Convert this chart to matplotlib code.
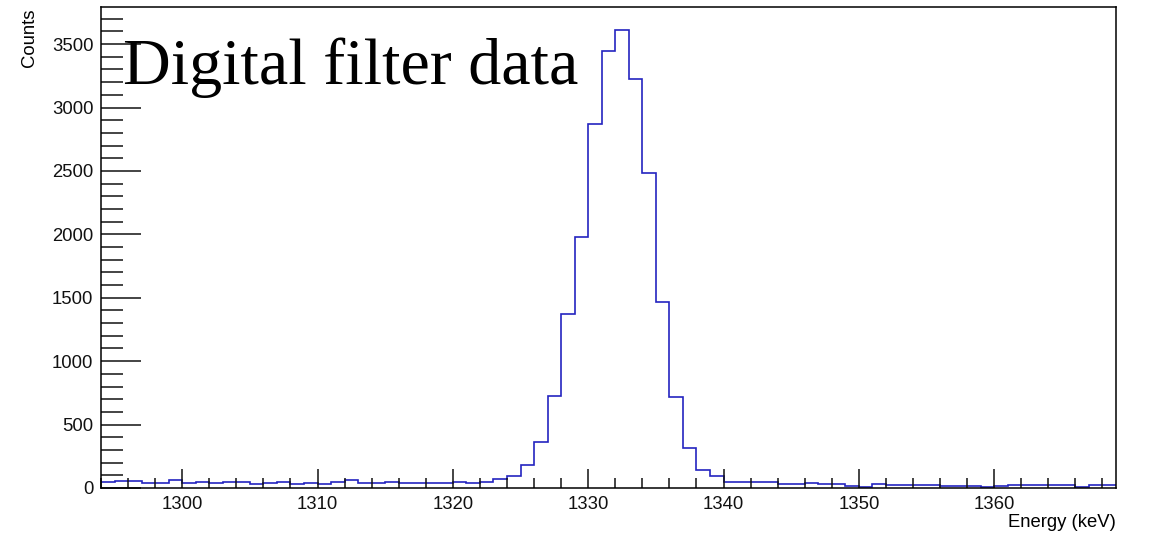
"""
Energy spectrum around the 1332 keV line, digital filter data.
"""
import numpy as np
import matplotlib.pyplot as plt
from matplotlib.ticker import MultipleLocator

# ------------------------------------------------------------------
# Data (1 keV bins starting at 1294 keV)
# ------------------------------------------------------------------
BIN_START = 1294
BIN_WIDTH = 1
COUNTS = [
    45, 53, 53, 42, 42, 63, 42, 50, 42, 50,      # 1294-1303
    50, 29, 42, 50, 29, 42, 29, 50, 61, 42,      # 1304-1313
    42, 50, 42, 42, 42, 42, 50, 42, 50, 70,      # 1314-1323
    93, 182, 363, 727, 1372, 1977, 2870, 3444, 3612, 3223,   # 1324-1333
    2480, 1464, 716, 315, 143, 96, 50, 50, 50, 50,           # 1334-1343
    32, 32, 40, 29, 29, 18, 8, 34, 21, 21,       # 1344-1353
    21, 26, 16, 16, 16, 8, 13, 21, 21, 21,       # 1354-1363
    21, 21, 8, 21, 21,                           # 1364-1368
]
X_LABEL = "Energy (keV)"
Y_LABEL = "Counts"
TITLE_TEXT = "Digital filter data"

# ------------------------------------------------------------------
# Plot
# ------------------------------------------------------------------
edges = BIN_START + BIN_WIDTH * np.arange(len(COUNTS) + 1)

plt.rcParams["font.family"] = ["Liberation Sans", "DejaVu Sans"]
fig = plt.figure(figsize=(11.49, 5.35), dpi=100)
ax = fig.add_axes([0.0879, 0.0879, 0.9713 - 0.0879, 0.9869 - 0.0879])

ax.stairs(COUNTS, edges, baseline=None, color="#2424c0", linewidth=1.2)

ax.set_xlim(edges[0], edges[-1])
ax.set_ylim(0, 1.05 * max(COUNTS))

ax.xaxis.set_major_locator(MultipleLocator(10))
ax.xaxis.set_minor_locator(MultipleLocator(2))
ax.yaxis.set_major_locator(MultipleLocator(500))
ax.yaxis.set_minor_locator(MultipleLocator(100))

ax.tick_params(axis="both", which="both", direction="in", top=False,
               right=False, labelsize=13.3, colors="#111111", width=1.1)
ax.tick_params(axis="x", which="major", length=14, pad=6)
ax.tick_params(axis="x", which="minor", length=7)
ax.tick_params(axis="y", which="major", length=29, pad=5.5)
ax.tick_params(axis="y", which="minor", length=16)

for sp in ax.spines.values():
    sp.set_linewidth(1.1)

fig.text(0.9713, 1 - 527 / 535, X_LABEL, ha="right", va="baseline",
         fontsize=13.3)
fig.text(0.026, 0.985, Y_LABEL, ha="center", va="top", rotation=90,
         fontsize=13.3)

ax.text(0.022, 0.840, TITLE_TEXT, transform=ax.transAxes, ha="left",
        va="baseline", fontsize=47.5,
        family=["Liberation Serif", "DejaVu Serif"])

fig.savefig("out.png", dpi=100)
